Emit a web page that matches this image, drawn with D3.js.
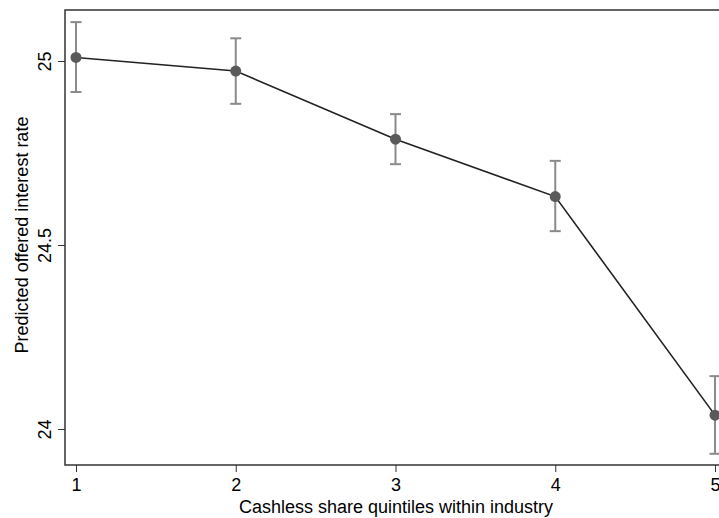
<!DOCTYPE html>
<meta charset="utf-8">
<style>
body { margin: 0; background: #fff; }
svg text { font-family: "Liberation Sans", Arial, Helvetica, sans-serif; fill: #000; }
.axis path { display: none; }
.axis line { stroke: #333; }
.axis text { font-size: 18px; }
</style>
<svg width="719" height="518"></svg>
<script src="https://d3js.org/d3.v7.min.js"></script>
<script>

var quintiles = [1, 2, 3, 4, 5];
var predicted = [25.011, 24.974, 24.789, 24.633, 24.039];
var ciLower = [24.917, 24.885, 24.721, 24.539, 23.934];
var ciUpper = [25.107, 25.063, 24.857, 24.730, 24.145];
var yTicks = [24, 24.5, 25];

var svg = d3.select("svg");

var frame = { left: 65, top: 10, right: 740, bottom: 465 };

var x = d3.scaleLinear().domain([1, 5]).range([76, 715]);
var y = d3.scaleLinear().domain([24, 25]).range([429.5, 61.5]);

// plot frame (right side runs off the picture)
svg.append("path")
    .attr("d", "M" + frame.right + "," + frame.top + "H" + frame.left + "V" + frame.bottom + "H" + frame.right)
    .attr("fill", "none")
    .attr("stroke", "#333")
    .attr("stroke-width", 1.5);

var xAxis = svg.append("g")
    .attr("class", "axis")
    .attr("transform", "translate(0," + frame.bottom + ")")
    .call(d3.axisBottom(x).tickValues(quintiles).tickFormat(d3.format("d")).tickSize(7));

xAxis.selectAll("text").attr("y", 26).attr("dy", 0);

var yAxis = svg.append("g")
    .attr("class", "axis")
    .attr("transform", "translate(" + frame.left + ",0)")
    .call(d3.axisLeft(y).tickValues(yTicks).tickFormat(function(d) { return d; }).tickSize(7));

// stata style: y tick labels turned on their side
yAxis.selectAll(".tick").attr("transform", null);
yAxis.selectAll(".tick line").attr("transform", function(d) { return "translate(0," + y(d) + ")"; });
yAxis.selectAll("text")
    .attr("transform", function(d) { return "translate(-14," + y(d) + ") rotate(-90)"; })
    .attr("x", 0).attr("y", 0).attr("dy", 0)
    .style("text-anchor", "middle");

// axis titles
svg.append("text")
    .attr("x", 396).attr("y", 513)
    .attr("text-anchor", "middle")
    .style("font-size", "18px")
    .text("Cashless share quintiles within industry");

svg.append("text")
    .attr("transform", "translate(28,235) rotate(-90)")
    .attr("text-anchor", "middle")
    .style("font-size", "18px")
    .text("Predicted offered interest rate");

// error bars
var bars = svg.append("g").selectAll("g")
    .data(quintiles)
    .enter().append("g")
    .attr("stroke", "#8a8a8a")
    .attr("stroke-width", 2);

bars.append("line")
    .attr("x1", function(d) { return x(d); })
    .attr("x2", function(d) { return x(d); })
    .attr("y1", function(d, i) { return y(ciLower[i]); })
    .attr("y2", function(d, i) { return y(ciUpper[i]); });

bars.append("line")
    .attr("x1", function(d) { return x(d) - 5.5; })
    .attr("x2", function(d) { return x(d) + 5.5; })
    .attr("y1", function(d, i) { return y(ciUpper[i]); })
    .attr("y2", function(d, i) { return y(ciUpper[i]); });

bars.append("line")
    .attr("x1", function(d) { return x(d) - 5.5; })
    .attr("x2", function(d) { return x(d) + 5.5; })
    .attr("y1", function(d, i) { return y(ciLower[i]); })
    .attr("y2", function(d, i) { return y(ciLower[i]); });

// connecting line
var line = d3.line()
    .x(function(d) { return x(d); })
    .y(function(d, i) { return y(predicted[i]); });

svg.append("path")
    .datum(quintiles)
    .attr("d", line)
    .attr("fill", "none")
    .attr("stroke", "#222")
    .attr("stroke-width", 1.6);

// markers
svg.append("g").selectAll("circle")
    .data(quintiles)
    .enter().append("circle")
    .attr("cx", function(d) { return x(d); })
    .attr("cy", function(d, i) { return y(predicted[i]); })
    .attr("r", 5.5)
    .attr("fill", "#5a5a5a");

</script>
